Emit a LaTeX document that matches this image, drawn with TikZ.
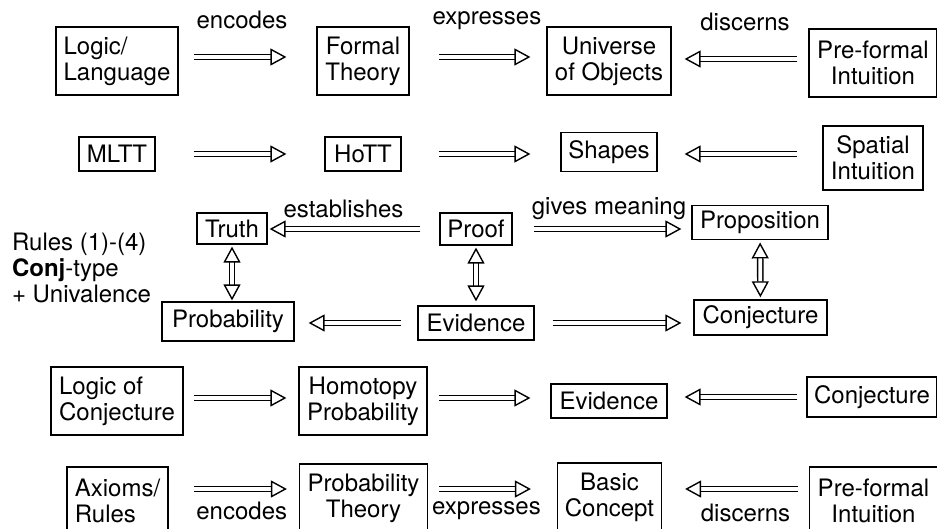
\documentclass[tikz,border=0pt]{standalone}
\usepackage{fontspec}
\setmainfont{TeX Gyre Heros}
\usetikzlibrary{arrows.meta,positioning}
\tikzstyle{box} = [draw, line width=0.6pt, rectangle, align=center, inner sep=3pt, minimum height=17pt]
\tikzstyle{twoline} = [box, minimum height=34pt]
\tikzstyle{dbl} = [double, double distance=1.9pt, line width=0.7pt, -{Triangle[open,length=8pt,width=8.5pt]}]
\tikzstyle{dblboth} = [dbl, {Triangle[open,length=8pt,width=8.5pt]}-{Triangle[open,length=8pt,width=8.5pt]}]

\begin{document}
\begin{tikzpicture}[x=0.5pt, y=-0.5pt, node distance=123pt, font=\fontsize{12}{13}\selectfont]
    \useasboundingbox (0,0) rectangle (937,529);
    % Row 1
    \node [twoline, align=left, minimum width=61pt] (logic) at (117,61) {Logic/\\Language};
    \node [twoline, minimum width=46pt, right of=logic] (formal) {Formal\\Theory};
    \node [twoline, minimum width=62pt, right of=formal] (universe) {Universe\\of Objects};
    \node [twoline, minimum width=64pt, right of=universe, node distance=132pt, yshift=-1pt] (preformal) {Pre-formal\\Intuition};

    % Row 2
    \node [box, minimum width=38pt] (mltt) at (117,154) {MLTT};
    \node [box, minimum width=38pt, right of=mltt] (hott) {HoTT};
    \node [box, minimum width=48pt, minimum height=19.5pt, right of=hott, yshift=1pt] (shapes) {Shapes};
    \node [twoline, minimum width=50pt, minimum height=32pt, right of=shapes, node distance=132pt, yshift=-3pt] (spatial) {Spatial\\Intuition};

    % Rows 3 and 4
    \node [align=left, anchor=west] (rules) at (5,268) {Rules (1)-(4)\\\textbf{Conj}-type\\+ Univalence};
    \node [box, minimum width=35pt, minimum height=15.5pt] (truth) at (232,228.5) {Truth};
    \node [box, minimum width=36pt, minimum height=16pt] (proof) at (476,229) {Proof};
    \node [box, minimum width=68pt, minimum height=14.5pt] (prop) at (760,222.5) {Proposition};
    \node [box, minimum width=66pt, minimum height=19.5pt] (prob) at (228,321.5) {Probability};
    \node [box, minimum width=58pt, minimum height=17pt] (evid) at (476,323) {Evidence};
    \node [box, minimum width=66.5pt, minimum height=15.5pt] (conj) at (760.5,317.5) {Conjecture};

    % Row 5
    \node [twoline, align=left, minimum width=66pt] (logconj) at (117,401) {Logic of\\Conjecture};
    \node [twoline, minimum width=64pt, right of=logconj] (homprob) {Homotopy\\Probability};
    \node [box, minimum width=58pt, right of=homprob] (evid2) {Evidence};
    \node [box, minimum width=65pt, minimum height=20pt, right of=evid2, node distance=131.5pt, yshift=2pt] (conj2) {Conjecture};

    % Row 6
    \node [twoline, align=left, minimum width=50.5pt] (axioms) at (117.5,501) {Axioms/\\Rules};
    \node [twoline, minimum width=64pt, right of=axioms, yshift=1.5pt] (probth) {Probability\\Theory};
    \node [twoline, minimum width=52pt, right of=probth, yshift=0.5pt] (basic) {Basic\\Concept};
    \node [twoline, minimum width=64pt, right of=basic, node distance=132pt, yshift=-2pt] (preformal2) {Pre-formal\\Intuition};

    % Connections, row 1
    \draw [dbl, shorten <=7.5pt, shorten >=15pt] ([yshift=2pt]logic.east) -- ([yshift=2pt]logic.east -| formal.west)
        node [midway, yshift=18.5pt, xshift=-2.75pt] {encodes};
    \draw [dbl, shorten <=14.5pt, shorten >=8pt] ([yshift=2pt]formal.east) -- ([yshift=2pt]formal.east -| universe.west)
        node [midway, yshift=18pt, xshift=4.5pt] {expresses};
    \draw [dbl, shorten <=5.5pt, shorten >=6.5pt] ([yshift=2pt]preformal.west) -- ([yshift=2pt]preformal.west -| universe.east)
        node [midway, yshift=18.5pt, xshift=2.5pt] {discerns};

    % row 2
    \draw [dbl, shorten <=19pt, shorten >=19pt] (mltt) -- (hott);
    \draw [dbl, shorten <=18.5pt, shorten >=15pt] (hott.east) -- (hott.east -| shapes.west);
    \draw [dbl, shorten <=12.5pt, shorten >=13.5pt] ([yshift=2pt]spatial.west) -- ([yshift=2pt]spatial.west -| shapes.east);

    % rows 3 and 4
    \draw [dbl, shorten <=9.5pt, shorten >=1pt] (proof.west) -- (proof.west -| truth.east)
        node [midway, yshift=10pt, xshift=-5pt] {establishes};
    \draw [dbl, shorten <=10.5pt, shorten >=5pt] (proof.east) -- (proof.east -| prop.west)
        node [midway, yshift=10pt, xshift=3.5pt] {gives meaning};
    \draw [dblboth, shorten <=1pt, shorten >=0.5pt] (truth.south -| 232,0) -- (prob.north -| 232,0);
    \draw [dblboth, shorten <=1pt, shorten >=2pt] (proof) -- (evid);
    \draw [dblboth, shorten <=1pt, shorten >=1pt] (prop) -- (conj);
    \draw [dbl, shorten <=8pt, shorten >=7pt] (evid.west) -- (evid.west -| prob.east);
    \draw [dbl, shorten <=9pt, shorten >=6pt] (evid.east) -- (evid.east -| conj.west);

    % row 5
    \draw [dbl, shorten <=5pt, shorten >=6pt] ([yshift=1.5pt]logconj.east) -- ([yshift=1.5pt]logconj.east -| homprob.west);
    \draw [dbl, shorten <=5.5pt, shorten >=10pt] ([yshift=1.5pt]homprob.east) -- ([yshift=1.5pt]homprob.east -| evid2.west);
    \draw [dbl, shorten <=4.5pt, shorten >=8.5pt] (conj2.west) -- (conj2.west -| evid2.east);

    % row 6
    \draw [dbl, shorten <=12.5pt, shorten >=6pt] ([yshift=6pt]axioms.east) -- ([yshift=6pt]axioms.east -| probth.west)
        node [midway, yshift=-11pt, xshift=4pt] {encodes};
    \draw [dbl, shorten <=5.5pt, shorten >=13pt] ([yshift=4.5pt]probth.east) -- ([yshift=4.5pt]probth.east -| basic.west)
        node [midway, yshift=-11pt, xshift=-3pt] {expresses};
    \draw [dbl, shorten <=5.5pt, shorten >=11.5pt] ([yshift=6pt]preformal2.west) -- ([yshift=6pt]preformal2.west -| basic.east)
        node [midway, yshift=-12pt, xshift=5pt] {discerns};
\end{tikzpicture}
\end{document}
